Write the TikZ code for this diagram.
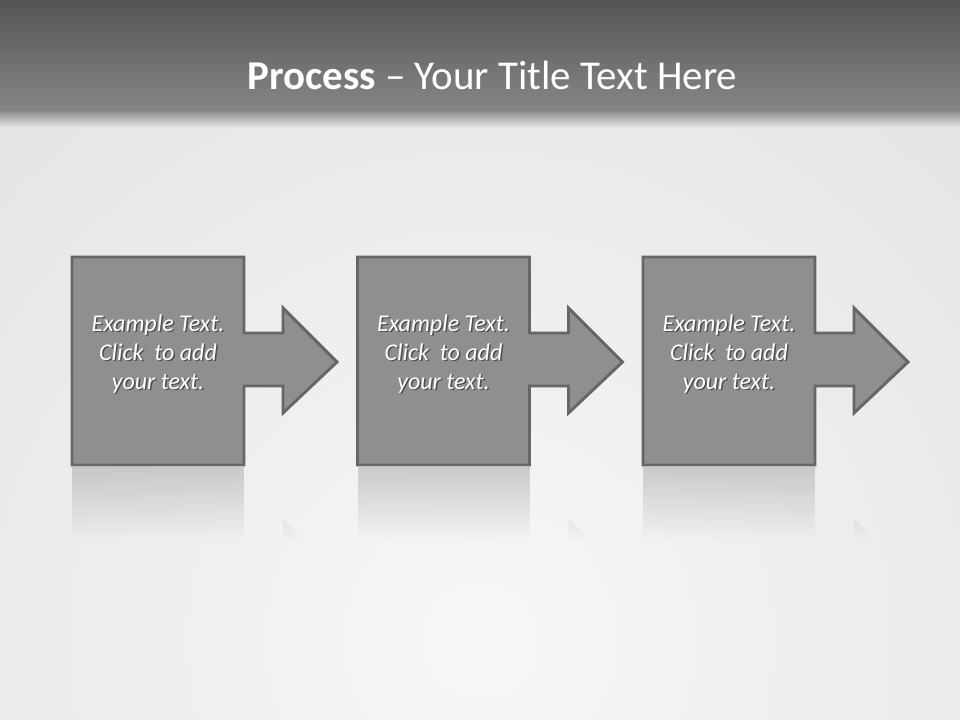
\documentclass[tikz,border=0pt]{standalone}
\usepackage{fontspec}
\setmainfont{Carlito}
\usetikzlibrary{fadings}
\definecolor{hdtop}{HTML}{555555}
\definecolor{hdbot}{HTML}{868686}
\definecolor{bgedge}{HTML}{E0E0E0}
\definecolor{bgmid}{HTML}{F7F7F7}
\definecolor{shapefill}{HTML}{8F8F8F}
\definecolor{shapeline}{HTML}{666666}
\definecolor{reflcol}{HTML}{9A9A9A}
\tikzfading[name=reflfade, top color=transparent!55, bottom color=transparent!100]
\tikzset{
  procshape/.style={fill=shapefill, draw=shapeline, line width=2.2pt, line join=miter},
  boxtext/.style={text=white, font=\fontsize{18}{21.75}\selectfont\itshape, align=center, inner sep=0pt},
  boxshadow/.style={text=black, opacity=0.45, font=\fontsize{18}{21.75}\selectfont\itshape, align=center, inner sep=0pt},
  titletext/.style={text=white, font=\fontsize{30.7}{36}\selectfont, inner sep=0pt},
  reflection/.style={fill=reflcol, path fading=reflfade}
}
\begin{document}
\begin{tikzpicture}[x=0.75pt,y=-0.75pt]
\useasboundingbox (0,0) rectangle (960,720);
% background
\begin{scope}
  \clip (0,0) rectangle (960,720);
  \fill[bgedge] (0,0) rectangle (960,720);
  \shade[inner color=bgmid, outer color=bgedge] (480,640) circle[radius=900];
\end{scope}
% header
\shade[top color=hdtop, bottom color=hdbot] (0,0) rectangle (960,110);
\shade[top color=hdbot, bottom color=bgedge!60!bgmid] (0,110) rectangle (960,128);
\node[titletext] (title) at (492.5,75) {\textbf{Process} – Your Title Text Here};
% process steps
\foreach \i/\dx in {1/0, 2/285.5, 3/571} {
  \begin{scope}[xshift=\dx*0.75pt]
    % reflection
    \fill[reflection] (72,467) rectangle (244,540);
    \fill[reflcol, opacity=0.35, path fading=reflfade] (283,519) -- (304,540) -- (283,540) -- cycle;
    % shape
    \draw[procshape] (72,257) -- (244,257) -- (244,333) -- (283,333) -- (283,308)
      -- (337,362) -- (283,413) -- (283,386) -- (244,386) -- (244,465) -- (72,465) -- cycle;
    \node[boxshadow] (s\i) at (159.5,355.5) {Example Text.\\Click\ \ to add\\your text.};
    \node[boxtext] (t\i) at (158,354) {Example Text.\\Click\ \ to add\\your text.};
  \end{scope}
}
\end{tikzpicture}
\end{document}
